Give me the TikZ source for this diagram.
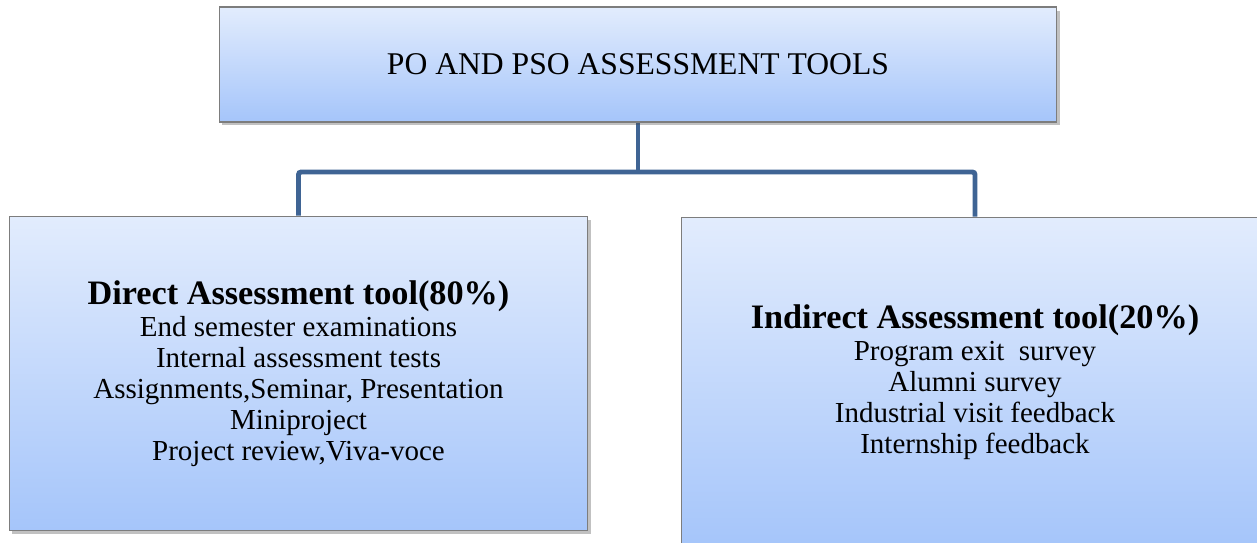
\documentclass[tikz,border=0pt]{standalone}
\usepackage{fontspec}
\setmainfont{Liberation Serif}
\usetikzlibrary{shadows,backgrounds}

\definecolor{boxtop}{RGB}{226,236,253}
\definecolor{boxbot}{RGB}{165,197,250}
\definecolor{boxline}{RGB}{125,125,125}
\definecolor{linkblue}{RGB}{63,100,148}

\tikzset{
	toolbox/.style={draw=boxline, line width=0.6pt, top color=boxtop, bottom color=boxbot,
		drop shadow={shadow xshift=1.5pt, shadow yshift=-2pt, opacity=0.35, fill=black!70},
		align=center, inner sep=0pt},
	link/.style={draw=linkblue, line width=2.8pt, rounded corners=1.5pt},
	headfont/.style={font=\fontsize{18}{20}\selectfont},
	listfont/.style={font=\fontsize{16.5}{17.6}\selectfont},
}
\newcommand{\toolhead}[1]{{\fontsize{19.5}{17.6}\selectfont\bfseries #1}}

\begin{document}
\begin{tikzpicture}[x=0.02cm, y=-0.02cm]
		%%%%% START %%%%%
		\useasboundingbox (0, 0) rectangle (1257, 543);
		\clip (0, 0) rectangle (1257, 543);
		
		\node[toolbox, headfont, minimum width=16.76cm, minimum height=2.3cm] (top) at (638, 64.5) {PO AND PSO ASSESSMENT TOOLS};
		
		\node[toolbox, listfont, minimum width=11.58cm, minimum height=6.3cm] (direct) at (298.5, 373.5)
			{\toolhead{Direct Assessment tool(80\%)}\\[1pt]
			End semester examinations\\
			Internal assessment tests\hspace*{1.6em}\\
			Assignments,Seminar, Presentation\\
			Miniproject\\
			Project review,Viva-voce};
		
		\node[toolbox, listfont, minimum width=11.76cm, minimum height=6.6cm] (indirect) at (975, 382)
			{\toolhead{Indirect Assessment tool(20\%)}\\[1pt]
			Program exit\ \ survey\\
			Alumni survey\\
			Industrial visit feedback\\
			Internship feedback};
		
		\coordinate (fork) at (638, 172);
		
		\begin{scope}[on background layer]
			\draw[link] (top.south) -- (fork);
			\draw[link] (direct.north) |- (fork) -| (indirect.north);
		\end{scope}
		
		%%%%% END %%%%%
\end{tikzpicture}
\end{document}
